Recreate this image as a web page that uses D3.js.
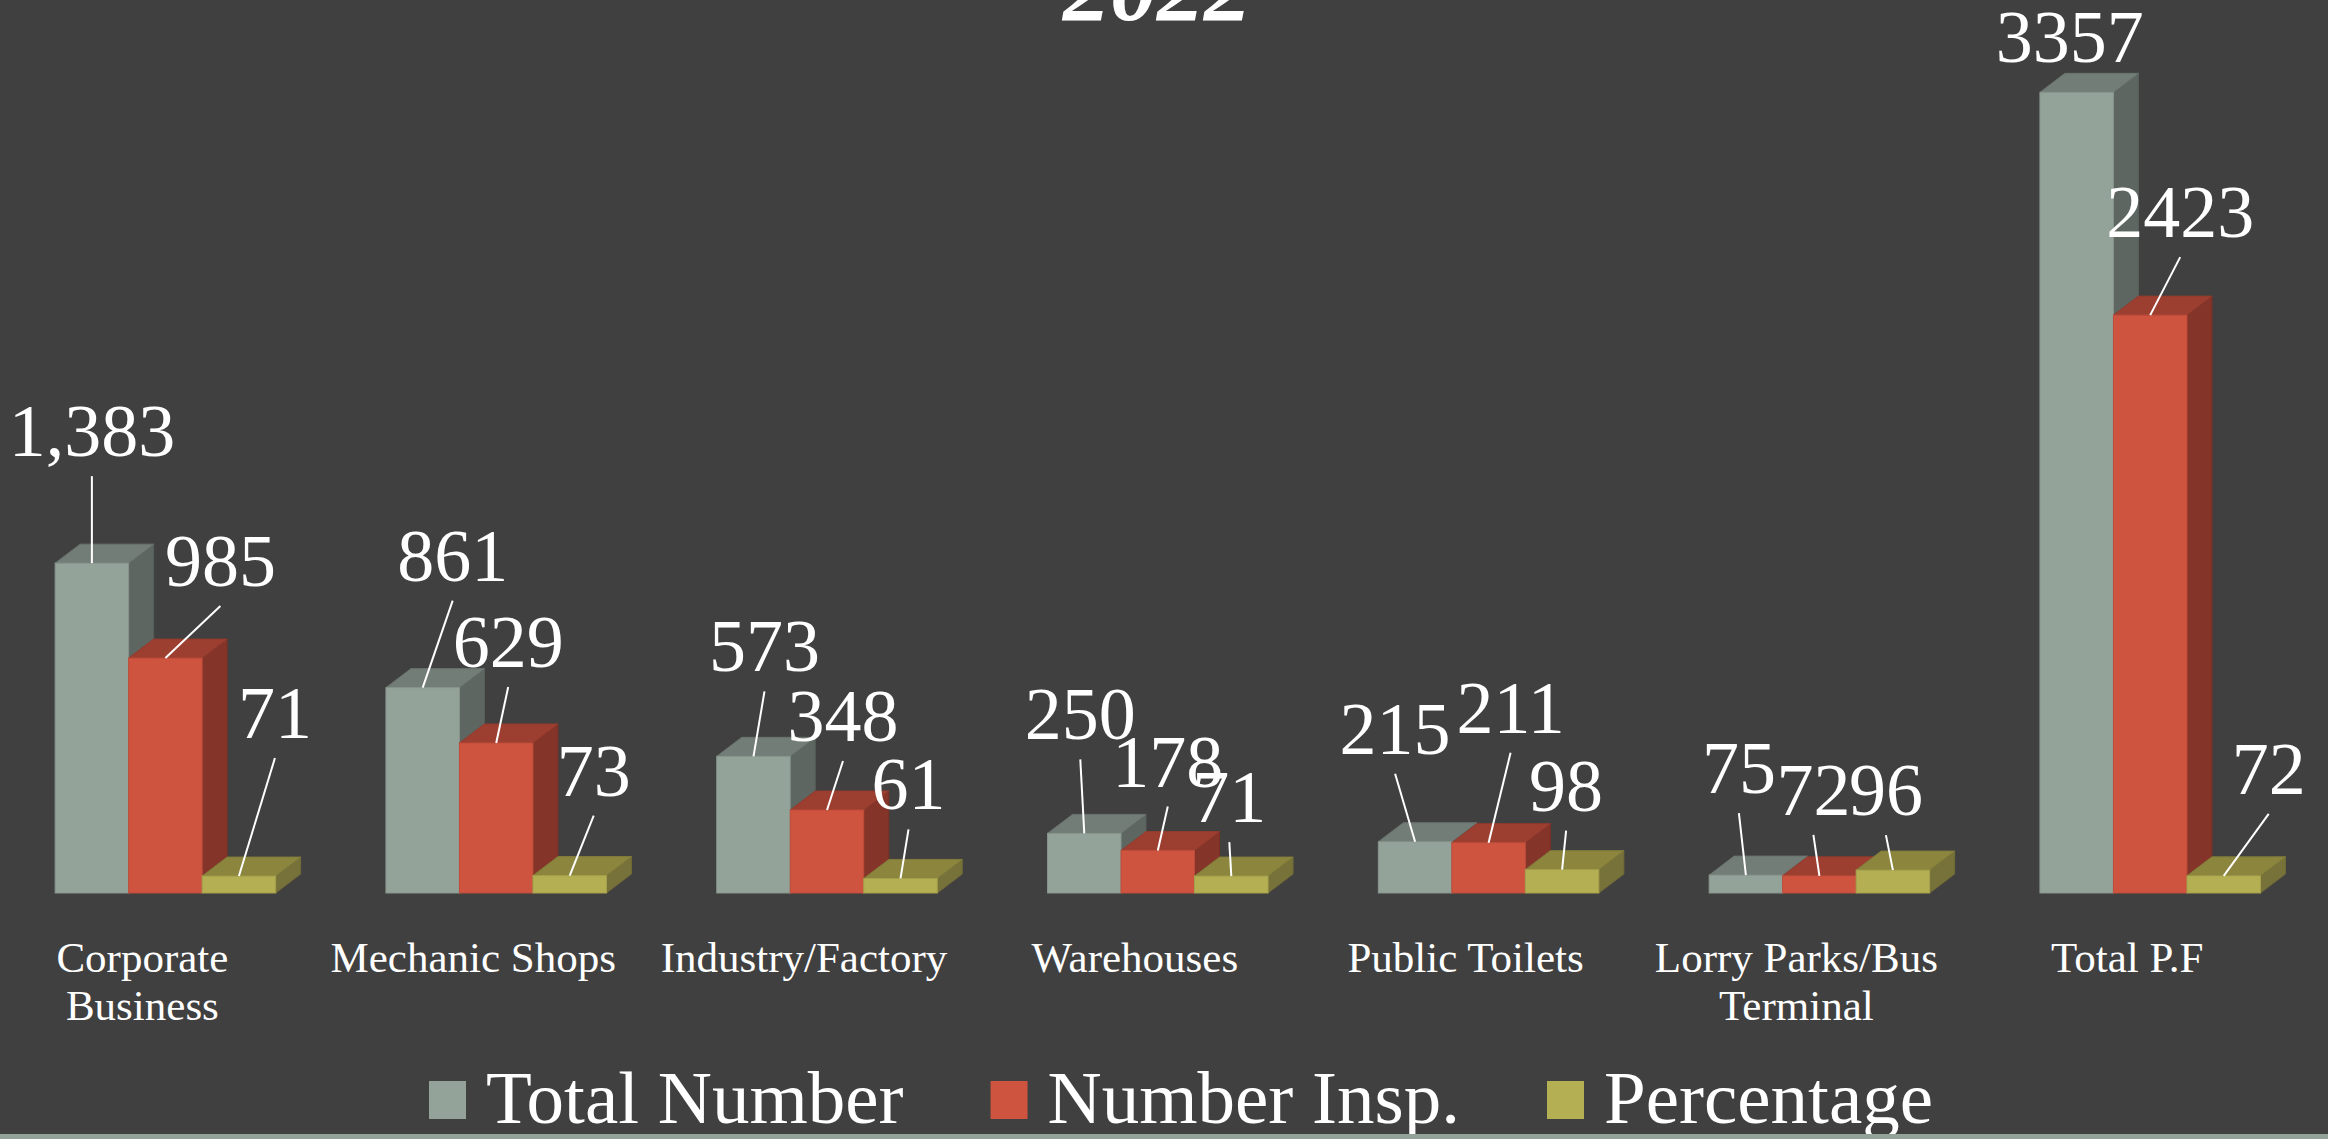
<!DOCTYPE html>
<html>
<head>
<meta charset="utf-8">
<script src="https://cdn.jsdelivr.net/npm/d3@7"></script>
<style>
  body { margin: 0; background: #404040; overflow: hidden; }
  text { font-family: "Liberation Serif", "Times New Roman", serif; fill: #ffffff; }
</style>
</head>
<body>
<div id="chart"></div>
<script>
var categories = [
  "Corporate Business",
  "Mechanic Shops",
  "Industry/Factory",
  "Warehouses",
  "Public Toilets",
  "Lorry Parks/Bus Terminal",
  "Total P.F"
];
var seriesNames = ["Total Number", "Number Insp.", "Percentage"];
var totalNumber = [1383, 861, 573, 250, 215, 75, 3357];
var numberInsp = [985, 629, 348, 178, 211, 72, 2423];
var percentage = [71, 73, 61, 71, 98, 96, 72];
// number format of each column in the source sheet
var cellFormat = [",", "d", "d", "d", "d", "d", "d"];
var title = "2022";

// where the data labels were dragged to, relative to the top of each bar
var labelNudge = [
  [[0, -107], [55, -72], [36, -138]],
  [[30, -107], [12, -76], [24, -80]],
  [[11, -85], [16, -69], [8, -69]],
  [[-4, -94], [10, -64], [-2, -54]],
  [[-20, -88], [22, -110], [4, -59]],
  [[-7, -82], [-6, -61], [-7, -55]],
  [[-7, -30], [30, -78], [45, -82]]
];

var width = 2328;
var height = 1139;
var baseY = 893;
var depthX = 25;
var depthY = 19;

var colors = {
  front: ["#94a39a", "#cf543f", "#b5af53"],
  top: ["#737d77", "#9d3f30", "#8b853e"],
  side: ["#5d6661", "#843428", "#77723a"]
};

var series = [totalNumber, numberInsp, percentage];

var svg = d3
  .select("#chart")
  .append("svg")
  .attr("width", width)
  .attr("height", height);

svg.append("rect").attr("width", width).attr("height", height).attr("fill", "#404040");

var x0 = d3
  .scaleBand()
  .domain(categories)
  .range([0, 2315.6])
  .paddingInner(1 / 3)
  .paddingOuter(1 / 6);

var x1 = d3
  .scaleBand()
  .domain(seriesNames)
  .range([0, x0.bandwidth()]);

var y = d3
  .scaleLinear()
  .domain([0, 3500])
  .range([baseY, baseY - 3500 * 0.2385]);

// title, cut off by the top of the picture
svg
  .append("text")
  .attr("x", 1157)
  .attr("y", 20)
  .attr("text-anchor", "middle")
  .style("font-size", "94px")
  .style("font-weight", "bold")
  .style("font-style", "italic")
  .text(title);

// bars, one box per value, drawn left to right so the next front face hides the side
var rows = [];
categories.forEach(function (c, ci) {
  seriesNames.forEach(function (s, si) {
    rows.push({ cat: c, ci: ci, s: s, si: si, value: series[si][ci] });
  });
});

var bars = svg
  .append("g")
  .selectAll("g.bar")
  .data(rows)
  .join("g")
  .attr("class", "bar");

function barBox(d) {
  var x = x0(d.cat) + x1(d.s);
  var w = x1.bandwidth();
  var top = y(d.value);
  return { x: x, w: w, top: top };
}

bars
  .append("path")
  .attr("d", function (d) {
    var b = barBox(d);
    return (
      "M" + (b.x + b.w) + "," + b.top +
      "L" + (b.x + b.w + depthX) + "," + (b.top - depthY) +
      "L" + (b.x + b.w + depthX) + "," + (baseY - depthY) +
      "L" + (b.x + b.w) + "," + baseY + "Z"
    );
  })
  .attr("fill", (d) => colors.side[d.si])
  .attr("stroke", (d) => d3.color(colors.side[d.si]).darker(0.2))
  .attr("stroke-width", 1);

bars
  .append("path")
  .attr("d", function (d) {
    var b = barBox(d);
    return (
      "M" + b.x + "," + b.top +
      "L" + (b.x + depthX) + "," + (b.top - depthY) +
      "L" + (b.x + b.w + depthX) + "," + (b.top - depthY) +
      "L" + (b.x + b.w) + "," + b.top + "Z"
    );
  })
  .attr("fill", (d) => colors.top[d.si])
  .attr("stroke", (d) => d3.color(colors.top[d.si]).darker(0.2))
  .attr("stroke-width", 1);

bars
  .append("rect")
  .attr("x", (d) => barBox(d).x)
  .attr("y", (d) => barBox(d).top)
  .attr("width", x1.bandwidth())
  .attr("height", (d) => baseY - barBox(d).top)
  .attr("fill", (d) => colors.front[d.si])
  .attr("stroke", (d) => d3.color(colors.front[d.si]).darker(0.25))
  .attr("stroke-width", 1);

// data labels with leader lines
var labels = svg.append("g");
rows.forEach(function (d) {
  var b = barBox(d);
  var ax = b.x + b.w / 2;
  var nudge = labelNudge[d.ci][d.si];
  var lx = ax + nudge[0];
  var ly = b.top + nudge[1];
  var fmt = d3.format(cellFormat[d.ci]);

  if (b.top - (ly + 20) > 25) {
    labels
      .append("line")
      .attr("x1", lx)
      .attr("y1", ly + 20)
      .attr("x2", ax)
      .attr("y2", b.top)
      .attr("stroke", "#ffffff")
      .attr("stroke-width", 2);
  }

  labels
    .append("text")
    .attr("x", lx)
    .attr("y", ly)
    .attr("text-anchor", "middle")
    .style("font-size", "74px")
    .text(fmt(d.value));
});

// category labels, wrapped like the sheet does it
var catLabels = svg
  .append("g")
  .selectAll("text")
  .data(categories)
  .join("text")
  .attr("text-anchor", "middle")
  .style("font-size", "43px")
  .attr("x", (d) => x0(d) + x0.bandwidth() / 2 - 23)
  .attr("y", 972);

catLabels.each(function (d) {
  var el = d3.select(this);
  var cx = +el.attr("x");
  var words = d.split(" ");
  var line = [];
  var tspan = el.append("tspan").attr("x", cx).attr("dy", 0);
  words.forEach(function (w) {
    line.push(w);
    tspan.text(line.join(" "));
    if (tspan.node().getComputedTextLength() > 300 && line.length > 1) {
      line.pop();
      tspan.text(line.join(" "));
      line = [w];
      tspan = el.append("tspan").attr("x", cx).attr("dy", 48).text(w);
    }
  });
});

// legend
var legend = svg.append("g");
var lx = 429;
seriesNames.forEach(function (s, i) {
  legend
    .append("rect")
    .attr("x", lx)
    .attr("y", 1081)
    .attr("width", 37)
    .attr("height", 38)
    .attr("fill", colors.front[i]);
  var t = legend
    .append("text")
    .attr("x", lx + 57)
    .attr("y", 1123)
    .style("font-size", "75px")
    .text(s);
  lx = lx + 57 + t.node().getComputedTextLength() + 87;
});

// strip along the bottom edge
svg
  .append("rect")
  .attr("x", 0)
  .attr("y", 1134)
  .attr("width", width)
  .attr("height", 5)
  .attr("fill", "#94a39a");
</script>
</body>
</html>
